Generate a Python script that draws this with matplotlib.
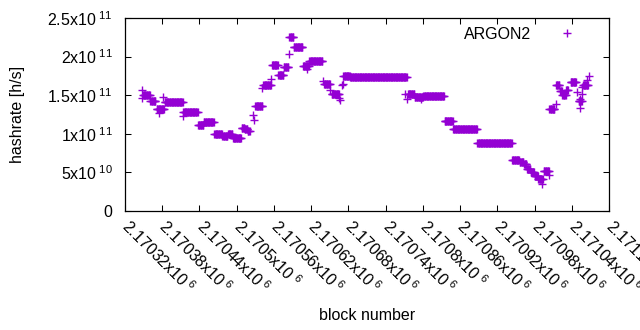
import matplotlib
matplotlib.use("Agg")
import matplotlib.pyplot as plt
import numpy as np

plt.rcParams['font.family'] = ['Liberation Sans', 'DejaVu Sans']
plt.rcParams['mathtext.fontset'] = 'custom'
plt.rcParams['mathtext.rm'] = 'Liberation Sans'
plt.rcParams['mathtext.it'] = 'Liberation Sans:italic'
plt.rcParams['mathtext.bf'] = 'Liberation Sans:bold'
plt.rcParams['mathtext.default'] = 'regular'

# runs of blocks with the same hashrate (first block, last block, value)
run_start = [2170349, 2170361, 2170371, 2170384, 2170414, 2170438, 2170447, 2170464,
             2170477, 2170486, 2170494, 2170508, 2170513, 2170518, 2170530, 2170543,
             2170557, 2170567, 2170576, 2170585, 2170592, 2170607, 2170617, 2170641,
             2170653, 2170672, 2170683, 2170776, 2170787, 2170801, 2170835, 2170849,
             2170888, 2170944, 2170956, 2170963, 2170968, 2170974, 2170980, 2170986,
             2170995, 2171004, 2171015, 2171021, 2171025, 2171031, 2171038, 2171051,
             2171058]
run_end = [2170360, 2170369, 2170383, 2170413, 2170437, 2170446, 2170463, 2170476,
           2170485, 2170493, 2170507, 2170512, 2170517, 2170521, 2170541, 2170555,
           2170566, 2170575, 2170583, 2170591, 2170606, 2170616, 2170638, 2170650,
           2170665, 2170682, 2170774, 2170786, 2170800, 2170834, 2170848, 2170887,
           2170943, 2170955, 2170962, 2170967, 2170973, 2170979, 2170985, 2170992,
           2171003, 2171012, 2171020, 2171024, 2171030, 2171034, 2171047, 2171056,
           2171066]
run_value = [1.50e11, 1.42e11, 1.32e11, 1.41e11, 1.28e11, 1.12e11, 1.15e11, 1.00e11,
             0.97e11, 0.995e11, 0.94e11, 1.08e11, 1.06e11, 1.04e11, 1.36e11, 1.63e11,
             1.89e11, 1.76e11, 1.86e11, 2.26e11, 2.12e11, 1.88e11, 1.94e11, 1.65e11,
             1.52e11, 1.745e11, 1.735e11, 1.52e11, 1.48e11, 1.49e11, 1.17e11, 1.06e11,
             0.877e11, 0.665e11, 0.64e11, 0.605e11, 0.55e11, 0.50e11, 0.45e11, 0.41e11,
             0.52e11, 1.32e11, 1.63e11, 1.56e11, 1.50e11, 1.57e11, 1.675e11, 1.43e11,
             1.63e11]

# single scattered blocks
pt_block = [2170347, 2170347, 2170374, 2170382, 2170414, 2170526, 2170528, 2170541,
            2170555, 2170584, 2170613, 2170639, 2170650, 2170665, 2170666, 2170669,
            2170671, 2170772, 2170774, 2170797, 2170992, 2170994, 2171003, 2171014,
            2171049, 2171053, 2171054, 2171056, 2171057, 2171064, 2171067]
pt_value = [1.57e11, 1.46e11, 1.27e11, 1.48e11, 1.23e11, 1.24e11, 1.18e11, 1.59e11,
            1.71e11, 2.03e11, 1.84e11, 1.68e11, 1.57e11, 1.46e11, 1.44e11, 1.63e11,
            1.65e11, 1.515e11, 1.455e11, 1.45e11, 0.35e11, 0.41e11, 0.46e11, 1.38e11,
            1.545e11, 1.45e11, 1.34e11, 1.51e11, 1.61e11, 1.70e11, 1.745e11]

xtick_values = list(range(2170320, 2171101, 60))
ytick_values = [0, 0.5e11, 1e11, 1.5e11, 2e11, 2.5e11]
ytick_labels = ['0', r'5x10$^{\ 10}$', r'1x10$^{\ 11}$', r'1.5x10$^{\ 11}$',
                r'2x10$^{\ 11}$', r'2.5x10$^{\ 11}$']

blocks = []
rates = []
for s, e, v in zip(run_start, run_end, run_value):
    for b in range(s, e + 1):
        blocks.append(b)
        rates.append(v)
blocks += pt_block
rates += pt_value
order = np.argsort(blocks, kind='stable')
blocks = np.array(blocks)[order]
rates = np.array(rates)[order]

fig = plt.figure(figsize=(6.4, 3.3), dpi=100)
ax = fig.add_axes([125 / 640, 1 - 211 / 330, 484 / 640, 193 / 330])

ax.plot(blocks, rates, linestyle='none', marker='+', markersize=5.5,
        markeredgewidth=1.0, color='#9400D3', label='ARGON2')

ax.set_xlim(2170320, 2171100)
ax.set_ylim(0, 2.5e11)
ax.set_xticks(xtick_values)
ax.set_xticklabels([r'%gx10$^{\ 6}$' % (v / 1e6) for v in xtick_values],
                   rotation=-45, ha='left', va='center', rotation_mode='anchor')
ax.set_yticks(ytick_values)
ax.set_yticklabels(ytick_labels)
ax.tick_params(direction='in', length=4, width=0.75, top=True, right=True,
               labelsize=11.5, colors='black')
ax.tick_params(axis='y', pad=9)
ax.tick_params(axis='x', pad=9)
for sp in ax.spines.values():
    sp.set_linewidth(0.9)

ax.set_xlabel('block number', fontsize=11.5)
ax.xaxis.label.set_va('center')
ax.xaxis.set_label_coords(0.5, -0.54)
ax.set_ylabel('hashrate [h/s]', fontsize=11.5)
ax.yaxis.label.set_va('center')
ax.yaxis.set_label_coords(-0.223, 0.5)

ax.legend(loc='upper right', bbox_to_anchor=(0.946, 0.955), markerfirst=False,
          frameon=False, borderaxespad=0, borderpad=0, handlelength=2,
          handletextpad=1.25, fontsize=11.5)

fig.savefig('out.png', dpi=100)
